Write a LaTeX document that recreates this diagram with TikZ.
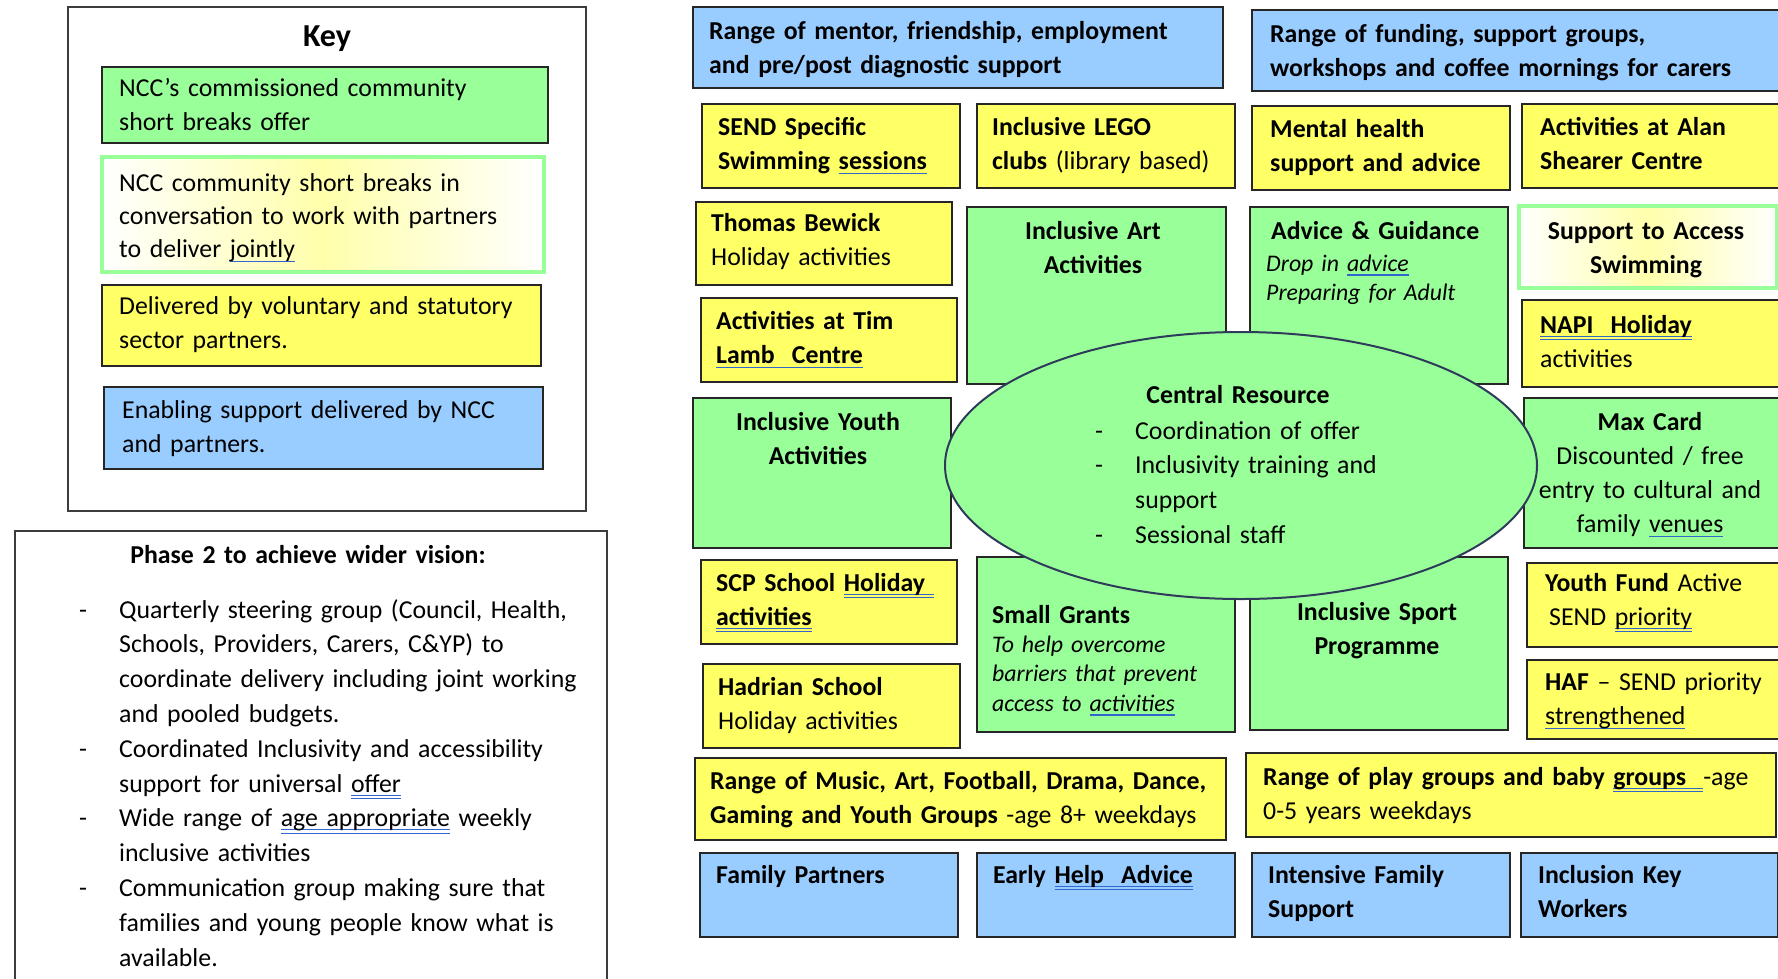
\documentclass[tikz,border=0pt]{standalone}
\usepackage{fontspec}
\setmainfont{Carlito}
\usetikzlibrary{shapes.geometric}

\definecolor{nccgreen}{HTML}{99FF99}
\definecolor{nccyellow}{HTML}{FFFF66}
\definecolor{nccblue}{HTML}{99CCFF}
\definecolor{edge}{HTML}{262626}
\definecolor{ellipseedge}{HTML}{2E3B5A}
\definecolor{spellblue}{HTML}{3366CC}

% Word-style proofing marks under some words
\newsavebox{\markbox}
\newcommand{\spellline}[1]{\leavevmode\sbox{\markbox}{#1}%
    \rlap{\textcolor{spellblue}{\rule[-0.2em]{\wd\markbox}{1.3pt}}}\usebox{\markbox}}
\newcommand{\gramline}[1]{\leavevmode\sbox{\markbox}{#1}%
    \rlap{\textcolor{spellblue}{\rule[-0.14em]{\wd\markbox}{1.1pt}}}%
    \rlap{\textcolor{spellblue}{\rule[-0.27em]{\wd\markbox}{1.1pt}}}\usebox{\markbox}}
\newcommand{\listdash}{\makebox[40pt][l]{-}}
\newcommand{\listgap}{\hspace*{40pt}}

\begin{document}
\fontsize{25.8}{34}\selectfont
\begin{tikzpicture}[
    x=1pt, y=-1pt,
    % Styles
    base/.style = {rectangle, draw=edge, line width=2.4pt, anchor=north west, inner sep=0pt},
    green_box/.style = {base, fill=nccgreen},
    yellow_box/.style = {base, fill=nccyellow},
    blue_box/.style = {base, fill=nccblue},
    joint_box/.style = {base, draw=nccgreen, line width=4pt, left color=white, right color=white, middle color=nccyellow!55},
    frame/.style = {base, draw=edge!90, line width=2.2pt, fill=white},
    txt/.style = {anchor=base west, inner sep=0pt, text width=600pt, align=left},
    ctxt/.style = {anchor=base, inner sep=0pt, text width=600pt, align=center},
    note/.style = {txt, font=\fontsize{23.8}{29.5}\selectfont\itshape}
]

\useasboundingbox (0,0) rectangle (1778,978);
\fill[white] (0,0) rectangle (1778,978);
\clip (0,0) rectangle (1778,978);

% --- KEY ---
\node[frame, minimum width=518pt, minimum height=504pt] (key) at (67,6) {};
\node[ctxt, font=\fontsize{32}{38}\selectfont\bfseries] (key_title) at (327,46) {Key};

\node[green_box, minimum width=446pt, minimum height=76pt] (key_comm) at (101,66) {};
\node[txt] (key_comm_txt) at (119,96) {NCC’s commissioned community\\short breaks offer};

\node[joint_box, minimum width=442pt, minimum height=115pt] (key_conv) at (100,155) {};
\node[txt, font=\fontsize{25.8}{33}\selectfont] (key_conv_txt) at (119,191) {NCC community short breaks in\\conversation to work with partners\\to deliver \spellline{jointly}};

\node[yellow_box, minimum width=439pt, minimum height=81pt] (key_vol) at (101,284) {};
\node[txt] (key_vol_txt) at (119,314) {Delivered by voluntary and statutory\\sector partners.};

\node[blue_box, minimum width=439pt, minimum height=82pt] (key_enab) at (103,386) {};
\node[txt] (key_enab_txt) at (122,418) {Enabling support delivered by NCC\\and partners.};

% --- PHASE 2 ---
\node[frame, minimum width=592pt, minimum height=500pt] (phase) at (14,530) {};
\node[ctxt, font=\bfseries] (phase_title) at (308,563) {Phase 2 to achieve wider vision:};
\node[txt, font=\fontsize{25.8}{34.8}\selectfont] (phase_list) at (79,618) {%
    \listdash Quarterly steering group (Council, Health,\\
    \listgap Schools, Providers, Carers, C\&YP) to\\
    \listgap coordinate delivery including joint working\\
    \listgap and pooled budgets.\\
    \listdash Coordinated Inclusivity and accessibility\\
    \listgap support for universal \gramline{offer}\\
    \listdash Wide range of \gramline{age appropriate} weekly\\
    \listgap inclusive activities\\
    \listdash Communication group making sure that\\
    \listgap families and young people know what is\\
    \listgap available.};

% --- ENABLING SUPPORT (TOP) ---
\node[blue_box, minimum width=530pt, minimum height=81pt] (mentor) at (692,6) {};
\node[txt, font=\bfseries] (mentor_txt) at (709,39) {Range of mentor, friendship, employment\\and pre/post diagnostic support};

\node[blue_box, minimum width=560pt, minimum height=81pt] (carers) at (1251,9) {};
\node[txt, font=\bfseries] (carers_txt) at (1270,42) {Range of funding, support groups,\\workshops and coffee mornings for carers};

% --- ROW 2 ---
\node[yellow_box, minimum width=258pt, minimum height=84pt] (swim) at (701,103) {};
\node[txt, font=\bfseries] (swim_txt) at (718,135) {SEND Specific\\Swimming \spellline{sessions}};

\node[yellow_box, minimum width=258pt, minimum height=84pt] (lego) at (976,103) {};
\node[txt] (lego_txt) at (992,135) {\textbf{Inclusive LEGO}\\\textbf{clubs} (library based)};

\node[yellow_box, minimum width=258pt, minimum height=84pt] (mental) at (1251,105) {};
\node[txt, font=\bfseries] (mental_txt) at (1270,137) {Mental health\\support and advice};

\node[yellow_box, minimum width=280pt, minimum height=84pt] (alan) at (1521,103) {};
\node[txt, font=\bfseries] (alan_txt) at (1540,135) {Activities at Alan\\Shearer Centre};

% --- ROW 3 ---
\node[yellow_box, minimum width=256pt, minimum height=83pt] (bewick) at (695,201) {};
\node[txt] (bewick_txt) at (711,231) {\textbf{Thomas Bewick}\\Holiday activities};

\node[yellow_box, minimum width=256pt, minimum height=84pt] (timlamb) at (700,297) {};
\node[txt, font=\bfseries] (timlamb_txt) at (716,329) {Activities at Tim\\\spellline{Lamb~ Centre}};

\node[green_box, minimum width=259pt, minimum height=177pt] (art) at (966,206) {};
\node[ctxt, font=\bfseries] (art_txt) at (1093,239) {Inclusive Art\\Activities};

\node[green_box, minimum width=258pt, minimum height=177pt] (advice) at (1249,206) {};
\node[txt, font=\bfseries] (advice_txt) at (1271,239) {Advice \& Guidance};
\node[note] (advice_note) at (1266,271) {Drop in \spellline{advice}\\Preparing for Adult};

\node[joint_box, minimum width=258pt, minimum height=82pt] (access) at (1517,204) {};
\node[ctxt, font=\bfseries] (access_txt) at (1646,239) {Support to Access\\Swimming};

\node[yellow_box, minimum width=280pt, minimum height=87pt] (napi) at (1521,299) {};
\node[txt] (napi_txt) at (1540,333) {\textbf{\gramline{NAPI~ Holiday}}\\activities};

% --- ROW 4 ---
\node[green_box, minimum width=258pt, minimum height=150pt] (youth) at (692,397) {};
\node[ctxt, font=\bfseries] (youth_txt) at (818,430) {Inclusive Youth\\Activities};

\node[green_box, minimum width=280pt, minimum height=150pt] (maxcard) at (1523,397) {};
\node[ctxt] (maxcard_txt) at (1650,430) {\textbf{Max Card}\\Discounted / free\\entry to cultural and\\family \spellline{venues}};

% --- ROW 5 ---
\node[yellow_box, minimum width=256pt, minimum height=84pt] (scp) at (700,559) {};
\node[txt, font=\bfseries] (scp_txt) at (716,591) {SCP School \gramline{Holiday~}\\\gramline{activities}};

\node[yellow_box, minimum width=257pt, minimum height=84pt] (hadrian) at (702,663) {};
\node[txt] (hadrian_txt) at (718,695) {\textbf{Hadrian School}\\Holiday activities};

\node[green_box, minimum width=258pt, minimum height=175pt] (grants) at (976,556) {};
\node[txt, font=\bfseries] (grants_txt) at (992,623) {Small Grants};
\node[note] (grants_note) at (992,652) {To help overcome\\barriers that prevent\\access to \spellline{activities}};

\node[green_box, minimum width=258pt, minimum height=173pt] (sport) at (1249,556) {};
\node[ctxt, font=\bfseries] (sport_txt) at (1377,620) {Inclusive Sport\\Programme};

\node[yellow_box, minimum width=280pt, minimum height=84pt] (youthfund) at (1526,562) {};
\node[txt] (youthfund_txt) at (1545,591) {\textbf{Youth Fund} Active\\\hspace*{4pt}SEND \gramline{priority}};

\node[yellow_box, minimum width=280pt, minimum height=79pt] (haf) at (1526,659) {};
\node[txt] (haf_txt) at (1545,690) {\textbf{HAF} – SEND priority\\\spellline{strengthened}};

% --- CENTRAL RESOURCE ---
\node[ellipse, draw=ellipseedge, line width=2pt, fill=nccgreen, inner sep=0pt,
      minimum width=592pt, minimum height=267pt] (central) at (1241,465.5) {};
\node[ctxt, font=\bfseries] (central_title) at (1238,403) {Central Resource};
\node[txt, font=\fontsize{25.8}{34.7}\selectfont] (central_list) at (1095,439) {%
    \listdash Coordination of offer\\
    \listdash Inclusivity training and\\
    \listgap support\\
    \listdash Sessional staff};

% --- ROW 6 ---
\node[yellow_box, minimum width=531pt, minimum height=82pt] (music) at (694,757) {};
\node[txt] (music_txt) at (710,789) {\textbf{Range of Music, Art, Football, Drama, Dance,}\\\textbf{Gaming and Youth Groups} -age 8+ weekdays};

\node[yellow_box, minimum width=530pt, minimum height=84pt] (play) at (1245,752) {};
\node[txt] (play_txt) at (1263,785) {\textbf{Range of play groups and baby \gramline{groups~~}}-age\\0-5 years weekdays};

% --- ENABLING SUPPORT (BOTTOM) ---
\node[blue_box, minimum width=258pt, minimum height=84pt] (familyp) at (699,852) {};
\node[txt, font=\bfseries] (familyp_txt) at (716,883) {Family Partners};

\node[blue_box, minimum width=258pt, minimum height=84pt] (earlyhelp) at (976,852) {};
\node[txt, font=\bfseries] (earlyhelp_txt) at (993,883) {Early \gramline{Help~ Advice}};

\node[blue_box, minimum width=258pt, minimum height=84pt] (intensive) at (1251,852) {};
\node[txt, font=\bfseries] (intensive_txt) at (1268,883) {Intensive Family\\Support};

\node[blue_box, minimum width=257pt, minimum height=84pt] (inclusion) at (1520,852) {};
\node[txt, font=\bfseries] (inclusion_txt) at (1538,883) {Inclusion Key\\Workers};

\end{tikzpicture}
\end{document}
